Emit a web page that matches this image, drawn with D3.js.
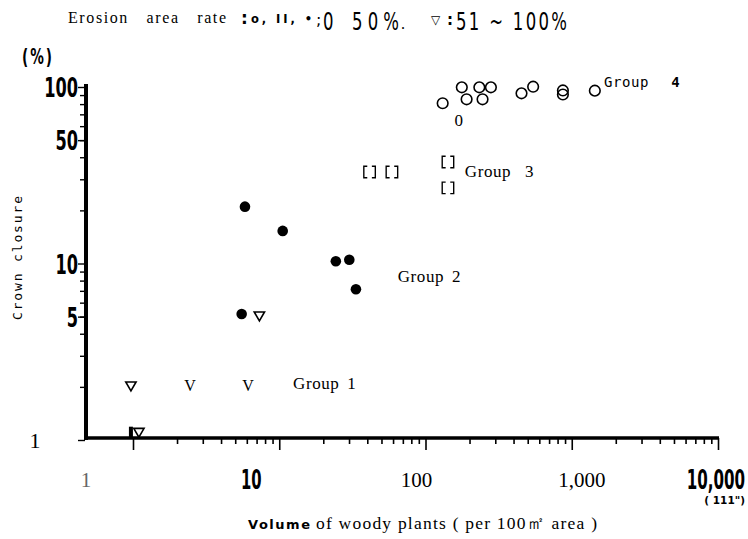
<!DOCTYPE html>
<html><head><meta charset="utf-8">
<script src="https://cdn.jsdelivr.net/npm/d3@7"></script>
<style>body{margin:0;background:#fff} svg{display:block;background:#fff}</style>
</head><body><svg id="c" width="748" height="539"></svg>
<script>
// ---- data ----
const xTickValues = [1, 10, 100, 1000, 10000];
const xTickLabels = ["1", "10", "100", "1,000", "10,000"];
const yTickValues = [1, 5, 10, 50, 100];
const yTickLabels = ["1", "5", "10", "50", "100"];

const group4Volume  = [144, 188, 201, 240, 251, 282, 432, 508, 769, 769, 1200];
const group4Closure = [80.9, 99.6, 85.2, 99.6, 85.2, 99.6, 92.1, 100.4, 95.6, 90.7, 95.3];
const group4ExtraVolume = [180];
const group4ExtraClosure = [65];
const group3Volume  = [52, 71, 155, 155];
const group3Closure = [33, 33, 37.6, 26.8];
const group2Volume  = [9.16, 15.5, 32.5, 39.2, 43.0, 8.75];
const group2Closure = [21.0, 15.3, 10.3, 10.5, 7.14, 5.17];
const triVolume  = [1.87, 2.09, 11.2];
const triClosure = [2.05, 1.12, 5.11];
const vVolume  = [4.26, 9.55];
const vClosure = [2.05, 2.05];
const barVolume = [1.87];
const barClosure = [1.1];
const groupNames = ["Group 1", "Group 2", "Group 3"];
const groupLabelVolume = [17.9, 77, 196];
const groupLabelClosure = [2.07, 8.4, 33];

// ---- scales ----
const svg = d3.select("#c");
const x = d3.scaleLog().domain([1, 10000]).range([86, 747]);       // data + labels
const xT = d3.scaleLog().domain([1, 10000]).range([133, 718]);     // printed tick marks
const y = d3.scaleLog().domain([1, 100]).range([440, 87]);

const serif = "'Liberation Serif','Times New Roman',serif";
const narrowF = "'DejaVu Sans','Liberation Sans',sans-serif";
const mono = "'DejaVu Sans Mono','Liberation Mono',monospace";
const sans = "'DejaVu Sans','Liberation Sans',sans-serif";

// tall narrow digits helper (compressed horizontally)
function narrow(g, px, py, str, size, width, opts = {}) {
  const sx = opts.sx || 0.66;
  const t = g.append("text")
    .attr("transform", `translate(${px},${py}) scale(${sx},1)`)
    .attr("font-family", narrowF).attr("font-size", size)
    .attr("font-weight", opts.weight || "normal")
    .attr("text-anchor", opts.anchor || "start")
    .text(str);
  if (width) t.attr("textLength", width / sx).attr("lengthAdjust", "spacing");
  return t;
}

// ---- x axis ticks ----
const minorX = [];
for (let d = 1; d < 10000; d *= 10) for (let k = 2; k <= 9; k++) minorX.push(d * k);
const axX = svg.append("g").attr("transform", `translate(0,${y(1) - 2})`);
axX.call(d3.axisBottom(xT).tickValues(minorX).tickSize(6).tickFormat(""));
axX.append("g").call(d3.axisBottom(xT).tickValues(xTickValues).tickSize(12).tickFormat(""));
axX.selectAll(".domain").remove();
axX.selectAll("line").attr("stroke", "#000").attr("stroke-width", 1.6);

// ---- y axis ticks ----
const minorY = [];
for (let d = 1; d < 100; d *= 10) for (let k = 2; k <= 9; k++) minorY.push(d * k);
const axY = svg.append("g").attr("transform", `translate(${x(1) - 1},0)`);
axY.call(d3.axisLeft(y).tickValues(minorY).tickSize(5).tickFormat(""));
axY.append("g").call(d3.axisLeft(y).tickValues(yTickValues).tickSize(7).tickFormat(""));
axY.selectAll(".domain").remove();
axY.selectAll("line").attr("stroke", "#000").attr("stroke-width", 1.4);

// axis lines
svg.append("line").attr("x1", x(1)).attr("x2", x(1)).attr("y1", y(100) - 3).attr("y2", y(1))
  .attr("stroke", "#000").attr("stroke-width", 4);
svg.append("line").attr("x1", x(1) - 2).attr("x2", xT(10000) + 1).attr("y1", y(1) - 2).attr("y2", y(1) - 2)
  .attr("stroke", "#000").attr("stroke-width", 3.5);

// ---- y tick labels ----
const yLab = svg.append("g");
yTickValues.forEach((v, i) => {
  const lab = yTickLabels[i];
  if (lab === "1") {
    yLab.append("text").attr("x", x(1) - 51).attr("y", y(v) + 8).attr("text-anchor", "middle")
      .attr("font-family", serif).attr("font-size", 22).text(lab);
  } else {
    narrow(yLab, x(1) - 8, y(v) + 10, lab, 27, null, { anchor: "end", weight: "bold", sx: 0.6 });
  }
});
narrow(svg, 22, 64, "(%)", 22, 30, { weight: "bold", sx: 0.62 });

// ---- x tick labels ----
const xLab = svg.append("g");
xTickValues.forEach((v, i) => {
  const lab = xTickLabels[i];
  if (lab === "10") {
    narrow(xLab, x(v), 489, lab, 27, null, { weight: "bold", sx: 0.55, anchor: "middle" });
  } else if (lab === "10,000") {
    narrow(xLab, x(v) - 2, 489, lab, 27, null, { weight: "bold", sx: 0.56, anchor: "end" });
  } else {
    const t = xLab.append("text").attr("y", 487).attr("x", x(v)).attr("text-anchor", "middle")
      .attr("font-family", serif).attr("font-size", 21).text(lab);
    if (lab === "1") t.attr("fill", "#666");
  }
});
svg.append("text").attr("x", 745).attr("y", 504).attr("text-anchor", "end").attr("font-family", sans)
  .attr("font-weight", "bold").attr("font-size", 10.5).text("( 111\")");

// ---- axis titles ----
svg.append("text").attr("x", 248).attr("y", 529).attr("font-family", sans).attr("font-weight", "bold")
  .attr("font-size", 13).attr("textLength", 62).attr("lengthAdjust", "spacing").text("Volume");
svg.append("text").attr("x", 316).attr("y", 529).attr("font-family", serif).attr("font-size", 17.5)
  .attr("textLength", 281).attr("lengthAdjust", "spacing").text("of  woody  plants  ( per 100㎡ area )");

svg.append("text").attr("transform", "translate(22,258) rotate(-90)").attr("text-anchor", "middle")
  .attr("font-family", mono).attr("font-size", 13).attr("textLength", 124).attr("lengthAdjust", "spacing")
  .text("Crown closure");

// ---- header ----
const hd = svg.append("g");
hd.append("text").attr("x", 68).attr("y", 23).attr("font-family", serif).attr("font-size", 16)
  .attr("letter-spacing", 1.6).attr("word-spacing", 12).text("Erosion area rate");
hd.append("text").attr("x", 241).attr("y", 24).attr("font-family", sans).attr("font-weight", "bold")
  .attr("font-size", 17).text(":");
hd.append("text").attr("x", 251).attr("y", 23).attr("font-family", sans).attr("font-weight", "bold")
  .attr("font-size", 11.5).attr("textLength", 61).attr("lengthAdjust", "spacing").text("o, II, •");
hd.append("text").attr("x", 316).attr("y", 25).attr("font-family", sans).attr("font-size", 16).text(";");
narrow(hd, 323, 30, "0", 25, null);
narrow(hd, 352, 30, "50%", 25, 47);
hd.append("text").attr("x", 401).attr("y", 29).attr("font-family", serif).attr("font-size", 16).text(".");
hd.append("text").attr("x", 431).attr("y", 24).attr("font-family", sans).attr("font-size", 12).text("▽");
hd.append("text").attr("x", 447).attr("y", 25).attr("font-family", sans).attr("font-weight", "bold")
  .attr("font-size", 15).text(":");
narrow(hd, 456, 30, "51 ~ 100%", 25, 111);

// ---- marks ----
const marks = svg.append("g");
// Group 4: open circles
marks.selectAll("circle.g4").data(group4Volume).join("circle").attr("class", "g4")
  .attr("cx", d => x(d)).attr("cy", (d, i) => y(group4Closure[i])).attr("r", 5.3)
  .attr("fill", "none").attr("stroke", "#000").attr("stroke-width", 1.6);
marks.selectAll("text.g4x").data(group4ExtraVolume).join("text").attr("class", "g4x")
  .attr("x", d => x(d)).attr("y", (d, i) => y(group4ExtraClosure[i]) + 6).attr("text-anchor", "middle")
  .attr("font-family", serif).attr("font-size", 17).attr("fill", "#000").text("0");
// Group 3: open squares printed as bracket pairs
const bracket = "M-2,-5H-5V5H-2M2,-5H5V5H2";
marks.selectAll("path.g3").data(group3Volume).join("path").attr("class", "g3")
  .attr("d", bracket).attr("transform", (d, i) => `translate(${x(d)},${y(group3Closure[i])}) scale(1.15)`)
  .attr("fill", "none").attr("stroke", "#000").attr("stroke-width", 1.2);
// Group 2: filled dots
marks.selectAll("circle.g2").data(group2Volume).join("circle").attr("class", "g2")
  .attr("cx", d => x(d)).attr("cy", (d, i) => y(group2Closure[i])).attr("r", 5.3).attr("fill", "#000");
// Triangles
const tri = d3.symbol().type(d3.symbolTriangle).size(46);
marks.selectAll("path.tri").data(triVolume).join("path").attr("class", "tri")
  .attr("d", tri).attr("transform", (d, i) => `translate(${x(d)},${y(triClosure[i])}) rotate(180)`)
  .attr("fill", "none").attr("stroke", "#000").attr("stroke-width", 1.6);
// Triangles printed as "V"
marks.selectAll("text.v").data(vVolume).join("text").attr("class", "v")
  .attr("x", d => x(d)).attr("y", (d, i) => y(vClosure[i]) + 6).attr("text-anchor", "middle")
  .attr("font-family", serif).attr("font-size", 16).attr("fill", "#000").text("V");
// small filled bar
marks.selectAll("rect.bar").data(barVolume).join("rect").attr("class", "bar")
  .attr("x", d => x(d) - 2).attr("y", (d, i) => y(barClosure[i]) - 6).attr("width", 4).attr("height", 12)
  .attr("fill", "#000");

// ---- group labels ----
svg.selectAll("text.gl").data(groupNames).join("text").attr("class", "gl")
  .attr("x", (d, i) => x(groupLabelVolume[i])).attr("y", (d, i) => y(groupLabelClosure[i]) + 5)
  .attr("font-family", serif).attr("font-size", 17).attr("letter-spacing", 0.6)
  .attr("word-spacing", (d, i) => i === 2 ? 9 : 3).attr("fill", "#000").text(d => d);
const g4 = svg.append("text").attr("x", 604).attr("y", 87).attr("font-family", mono).attr("font-size", 14);
g4.append("tspan").attr("letter-spacing", 0.6).text("Group");
g4.append("tspan").attr("dx", 22).attr("font-weight", "bold").text("4");
</script>
</body></html>
